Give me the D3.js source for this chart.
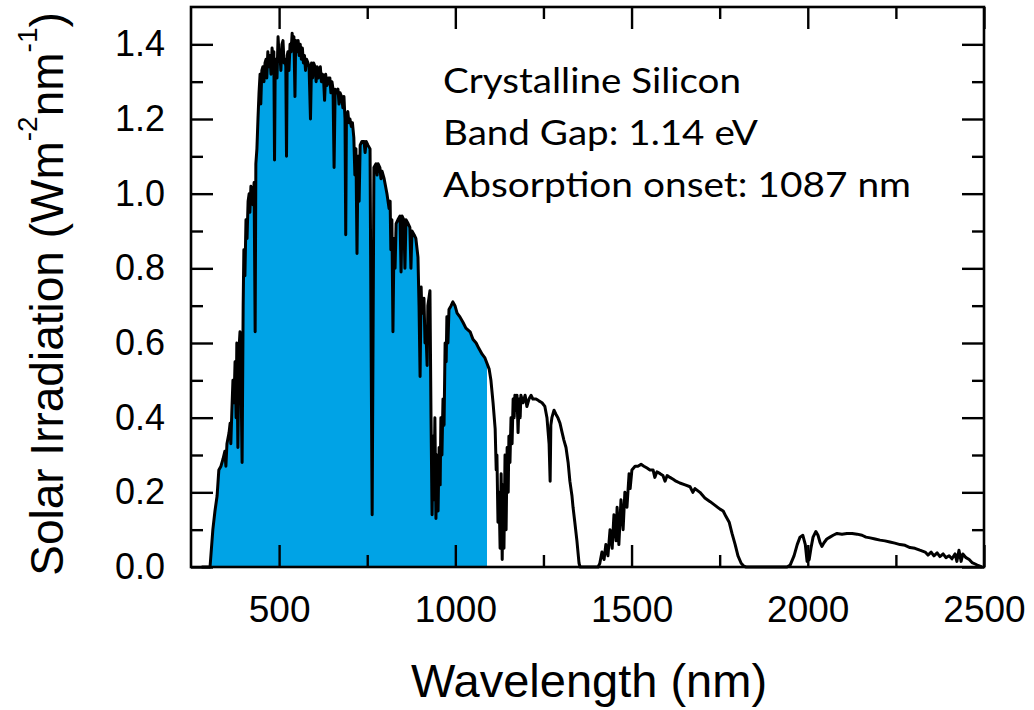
<!DOCTYPE html>
<html><head><meta charset="utf-8">
<script src="https://cdn.jsdelivr.net/npm/d3@7"></script>
<style>body{margin:0;background:#fff}svg{display:block}</style>
</head><body><svg id="c" width="1034" height="710"></svg>
<script>
// ---- data ----
const wavelength = [280,300,304,312,318,324,329,335,341,346,349,352,358,361,363,366,369,372,375,378,380,383,386,389,392,395,398,400,403,406,409,412,415,417,420,423,426,429,432,434,437,440,443,446,448,451,454,457,460,463,465,468,471,474,477,480,483,485,487,489,491,494,497,500,502,505,508,511,514,517,519,521,523,525,528,531,534,537,539,542,545,547,550,554,557,560,563,566,569,572,575,578,582,585,589,592,595,598,602,605,608,611,614,617,620,623,626,629,632,636,640,644,647,650,653,656,659,663,667,670,673,677,681,684,687,689,691,695,698,701,705,708,712,715,718,721,724,727,730,735,741,744,747,752,758,761,764,767,769,775,778,781,786,789,792,798,800,806,812,815,817,820,823,826,829,832,837,843,846,849,854,857,860,866,871,874,877,883,888,894,897,900,903,905,911,914,917,920,922,925,928,931,934,937,939,942,945,948,951,954,957,959,962,965,968,971,974,976,979,982,988,993,999,1005,1013,1022,1030,1042,1050,1059,1067,1076,1084,1090,1096,1101,1107,1113,1116,1118,1121,1124,1127,1130,1133,1135,1138,1141,1144,1147,1150,1152,1155,1158,1161,1164,1167,1169,1172,1175,1178,1181,1184,1186,1192,1198,1203,1209,1215,1220,1229,1237,1246,1254,1260,1266,1269,1271,1274,1280,1285,1291,1297,1303,1308,1314,1320,1325,1331,1334,1339,1345,1351,1354,1405,1410,1416,1422,1427,1433,1439,1445,1450,1456,1459,1464,1470,1476,1481,1487,1493,1496,1501,1510,1518,1527,1535,1544,1552,1561,1566,1572,1581,1589,1595,1601,1609,1618,1626,1637,1652,1666,1674,1680,1694,1708,1723,1737,1751,1760,1768,1777,1785,1794,1802,1811,1819,1825,1941,1950,1961,1970,1978,1986,1993,1998,2004,2009,2015,2023,2029,2035,2040,2046,2054,2063,2072,2083,2097,2111,2126,2140,2154,2165,2177,2191,2205,2219,2233,2247,2262,2276,2290,2304,2318,2333,2341,2350,2358,2367,2375,2384,2392,2401,2409,2418,2423,2429,2435,2440,2449,2458,2466,2475,2483,2494];
const irradiance = [0,0,0.0,0.10,0.15,0.19,0.26,0.27,0.29,0.31,0.27,0.33,0.36,0.385,0.33,0.42,0.50,0.44,0.55,0.40,0.60,0.32,0.58,0.63,0.50,0.28,0.70,0.85,0.78,0.93,0.88,0.98,1.00,0.95,1.02,1.00,0.97,1.03,0.63,1.08,1.12,1.20,1.27,1.32,1.24,1.33,1.34,1.30,1.35,1.36,1.31,1.38,1.34,1.37,1.32,1.39,1.36,1.38,1.09,1.35,1.36,1.31,1.42,1.37,1.38,1.33,1.40,1.41,1.35,1.36,1.34,1.10,1.37,1.38,1.33,1.40,1.38,1.43,1.39,1.42,1.26,1.41,1.38,1.41,1.37,1.40,1.36,1.39,1.35,1.37,1.33,1.36,1.35,1.34,1.20,1.35,1.31,1.35,1.34,1.30,1.34,1.31,1.33,1.34,1.30,1.32,1.31,1.25,1.32,1.29,1.31,1.31,1.27,1.30,1.28,1.07,1.28,1.27,1.28,1.24,1.27,1.26,1.23,1.26,1.20,0.89,1.21,1.22,1.19,1.20,1.18,1.19,1.15,1.05,1.12,0.84,1.10,0.98,1.13,1.14,1.14,1.11,1.14,1.13,1.12,0.60,0.14,0.70,1.07,1.08,1.05,1.08,1.07,1.04,1.06,1.04,1.03,1.00,0.96,0.98,0.85,0.93,0.63,0.88,0.80,0.92,0.93,0.94,0.79,0.94,0.93,0.80,0.93,0.92,0.91,0.80,0.90,0.89,0.88,0.83,0.70,0.51,0.75,0.68,0.72,0.60,0.62,0.54,0.70,0.72,0.74,0.40,0.14,0.35,0.18,0.40,0.13,0.30,0.15,0.32,0.22,0.40,0.30,0.45,0.38,0.60,0.55,0.67,0.60,0.69,0.70,0.71,0.70,0.68,0.67,0.655,0.64,0.63,0.61,0.60,0.585,0.57,0.56,0.545,0.53,0.50,0.44,0.37,0.26,0.30,0.12,0.20,0.05,0.25,0.02,0.22,0.05,0.30,0.10,0.32,0.20,0.35,0.28,0.40,0.33,0.45,0.40,0.46,0.42,0.46,0.36,0.45,0.40,0.46,0.44,0.46,0.43,0.45,0.46,0.45,0.45,0.445,0.44,0.43,0.40,0.33,0.23,0.38,0.40,0.42,0.41,0.40,0.385,0.36,0.34,0.32,0.28,0.23,0.19,0.16,0.12,0.07,0.01,0,0,0.01,0.04,0.02,0.06,0.03,0.10,0.05,0.14,0.07,0.16,0.06,0.18,0.10,0.20,0.16,0.25,0.21,0.26,0.27,0.27,0.275,0.27,0.265,0.26,0.26,0.24,0.255,0.25,0.245,0.23,0.245,0.24,0.235,0.23,0.225,0.22,0.215,0.20,0.21,0.20,0.185,0.175,0.165,0.155,0.15,0.135,0.12,0.09,0.06,0.03,0.01,0.002,0,0,0.005,0.03,0.06,0.08,0.085,0.06,0.015,0.02,0.05,0.08,0.095,0.085,0.065,0.055,0.065,0.075,0.08,0.085,0.09,0.088,0.09,0.09,0.088,0.085,0.08,0.078,0.075,0.072,0.07,0.067,0.064,0.06,0.058,0.052,0.05,0.045,0.04,0.032,0.04,0.03,0.038,0.028,0.035,0.025,0.03,0.022,0.035,0.015,0.045,0.015,0.035,0.025,0.02,0.012,0.008,0.004,0];
const xMajorTicks = [500,1000,1500,2000,2500];
const xMinorTicks = [750,1250,1750,2250];
const yMajorTicks = [0,0.2,0.4,0.6,0.8,1.0,1.2,1.4];
const yMinorTicks = [0.1,0.3,0.5,0.7,0.9,1.1,1.3];
const absorptionOnset = 1087;
const annotationLines = ["Crystalline Silicon","Band Gap: 1.14 eV","Absorption onset: 1087 nm"];
const xTitle = "Wavelength (nm)";

// ---- drawing ----
const svg = d3.select("#c");
const L = 191, R = 984, T = 7, B = 567;
const x = d3.scaleLinear().domain([250,2500]).range([L,R]);
const y = d3.scaleLinear().domain([0,1.5]).range([B,T]);
const pts = wavelength.map((w,i)=>({w, v: irradiance[i]}));

svg.append("clipPath").attr("id","onset").append("rect")
  .attr("x", L).attr("y", T).attr("width", x(absorptionOnset)-L+1).attr("height", B-T);

svg.append("path").datum(pts)
  .attr("clip-path","url(#onset)")
  .attr("fill","#00a3e6")
  .attr("d", d3.area().x(d=>x(d.w)).y0(y(0)).y1(d=>y(d.v)));

svg.append("path").datum(pts)
  .attr("fill","none").attr("stroke","#000").attr("stroke-width",3)
  .attr("stroke-linejoin","round")
  .attr("d", d3.line().x(d=>x(d.w)).y(d=>y(d.v)));

const FONT = "'Liberation Sans', Arial, sans-serif";
function style(g, labels){
  g.select(".domain").remove();
  g.selectAll(".tick line").attr("stroke","#000").attr("stroke-width",2.4);
  g.selectAll("text").attr("fill","#000").attr("font-family",FONT);
  if(!labels) g.selectAll("text").remove();
}
// bottom
svg.append("g").attr("transform",`translate(0,${B})`)
  .call(d3.axisBottom(x).tickValues(xMajorTicks).tickSize(-22).tickPadding(29).tickFormat(d3.format("d")))
  .call(g=>{style(g,true); g.selectAll("text").attr("font-size",37);});
svg.append("g").attr("transform",`translate(0,${B})`)
  .call(d3.axisBottom(x).tickValues(xMinorTicks).tickSize(-12)).call(g=>style(g,false));
// top
svg.append("g").attr("transform",`translate(0,${T})`)
  .call(d3.axisTop(x).tickValues(xMajorTicks).tickSize(-22)).call(g=>style(g,false));
svg.append("g").attr("transform",`translate(0,${T})`)
  .call(d3.axisTop(x).tickValues(xMinorTicks).tickSize(-12)).call(g=>style(g,false));
// left
svg.append("g").attr("transform",`translate(${L},0)`)
  .call(d3.axisLeft(y).tickValues(yMajorTicks).tickSize(-22).tickPadding(26).tickFormat(d3.format(".1f")))
  .call(g=>{style(g,true); g.selectAll("text").attr("font-size",36);});
svg.append("g").attr("transform",`translate(${L},0)`)
  .call(d3.axisLeft(y).tickValues(yMinorTicks).tickSize(-12)).call(g=>style(g,false));
// right
svg.append("g").attr("transform",`translate(${R},0)`)
  .call(d3.axisRight(y).tickValues(yMajorTicks).tickSize(-22)).call(g=>style(g,false));
svg.append("g").attr("transform",`translate(${R},0)`)
  .call(d3.axisRight(y).tickValues(yMinorTicks).tickSize(-12)).call(g=>style(g,false));

// frame
svg.append("rect").attr("x",L).attr("y",T).attr("width",R-L).attr("height",B-T)
  .attr("fill","none").attr("stroke","#000").attr("stroke-width",2.6);

// x title
svg.append("text").attr("x",589).attr("y",697).attr("text-anchor","middle")
  .attr("font-family",FONT).attr("font-size",47).attr("fill","#000").text(xTitle);

// y title (rotated, with superscripts)
const yt = svg.append("text").attr("transform","translate(63,294) rotate(-90)")
  .attr("text-anchor","middle").attr("font-family",FONT).attr("font-size",46).attr("fill","#000");
yt.append("tspan").text("Solar Irradiation (Wm");
yt.append("tspan").attr("font-size",28).attr("dy",-26).text("-2");
yt.append("tspan").attr("dy",26).text("nm");
yt.append("tspan").attr("font-size",28).attr("dy",-26).text("-1");
yt.append("tspan").attr("dy",26).text(")");

// annotation
const widths = [298,315,468];
annotationLines.forEach((s,i)=>{
  svg.append("text").attr("x",443).attr("y",93+i*52)
    .attr("font-family","Lato, 'Open Sans', sans-serif").attr("font-size",34).attr("fill","#000")
    .attr("textLength",widths[i]).attr("lengthAdjust","spacingAndGlyphs").text(s);
});
</script></body></html>
